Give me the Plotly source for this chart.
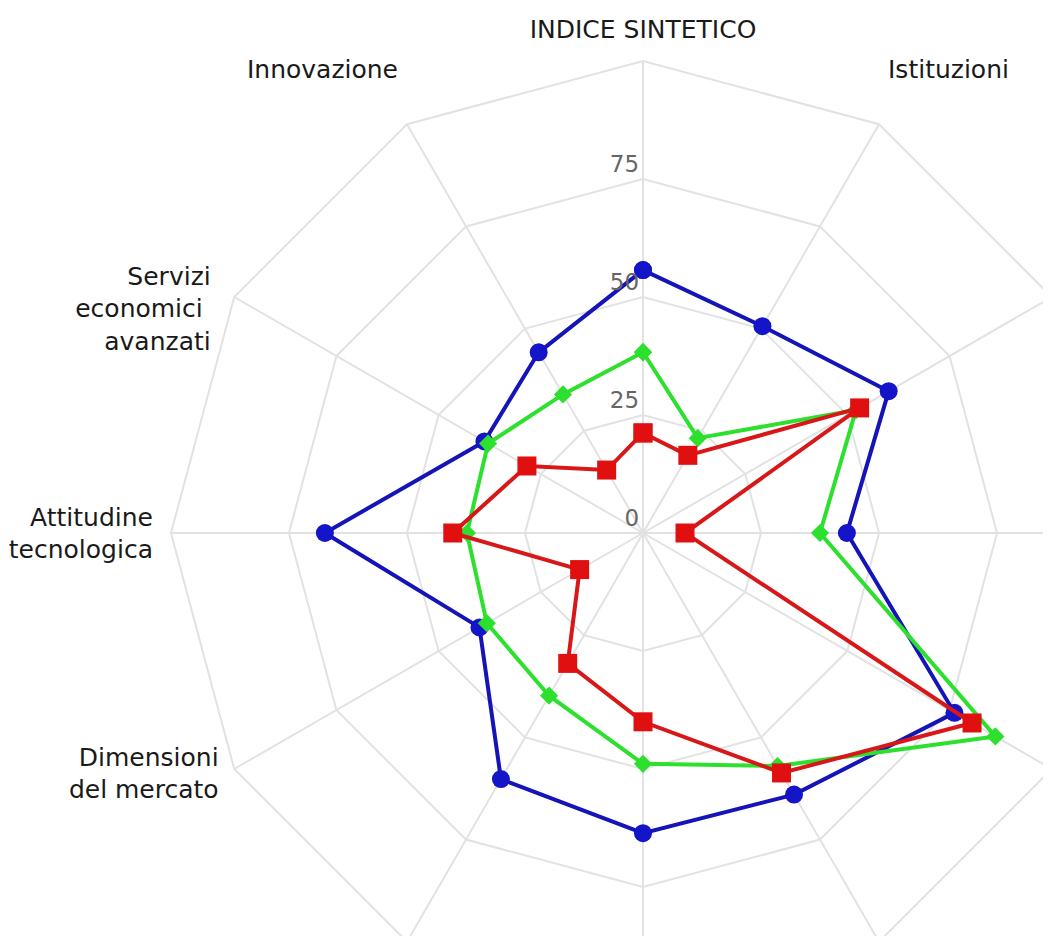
import plotly.graph_objects as go

categories = [
    "INDICE SINTETICO",
    "Istituzioni",
    "Stabilità<br>macroeconomica",
    "Infrastrutture",
    "Salute",
    "Istruzione<br>di base",
    "Istruzione superiore<br>e formazione continua",
    "Efficienza del<br>mercato del lavoro",
    "Dimensioni<br>del mercato",
    "Attitudine<br>tecnologica",
    "Servizi<br>economici <br>avanzati",
    "Innovazione",
]

serie_blu = [55.7, 50.6, 60.1, 43.2, 76.2, 64.0, 63.6, 60.2, 40.0, 67.4, 38.8, 44.2]
serie_verde = [38.3, 23.2, 52.1, 37.5, 86.2, 57.0, 48.9, 39.8, 38.2, 37.3, 37.9, 33.9]
serie_rossa = [21.2, 19.0, 53.0, 8.9, 80.5, 58.7, 40.0, 31.9, 15.5, 40.3, 28.4, 15.4]

radial_ticks = [0, 25, 50, 75]
radial_ticktext = ["0", "25", "50", "75"]

FONT = "DejaVu Sans"
GRID = "#e2e2e2"
BLANK = "&nbsp;"

# blank padding (lines before, lines after, trailing spaces per line) nudging individual labels
label_padding = {
    "Istituzioni": (0, 1, 0),
    "Innovazione": (0, 1, 0),
    "Servizi<br>economici <br>avanzati": (5, 0, 1),
    "Dimensioni<br>del mercato": (0, 3, 0),
}


def padded(label):
    before, after, trail = label_padding.get(label, (0, 0, 0))
    lines = [ln + BLANK * trail for ln in label.split("<br>")]
    return "<br>".join([BLANK] * before + lines + [BLANK] * after)


def closed(vals):
    return list(vals) + [vals[0]]


fig = go.Figure()
fig.add_trace(go.Scatterpolar(
    r=closed(serie_blu), theta=closed(categories), mode="lines+markers",
    line=dict(color="#1414b8", width=4),
    marker=dict(symbol="circle", size=18, color="#1414c8"),
    name="Serie 1",
))
fig.add_trace(go.Scatterpolar(
    r=closed(serie_verde), theta=closed(categories), mode="lines+markers",
    line=dict(color="#2ee02e", width=4),
    marker=dict(symbol="diamond", size=14, color="#2ee02e"),
    name="Serie 2",
))
fig.add_trace(go.Scatterpolar(
    r=closed(serie_rossa), theta=closed(categories), mode="lines+markers",
    line=dict(color="#d81818", width=4),
    marker=dict(symbol="square", size=19, color="#e01010"),
    name="Serie 3",
))

fig.update_layout(
    width=1120, height=1010,
    margin=dict(l=163, r=13, t=53, b=13),
    paper_bgcolor="white",
    showlegend=False,
    font=dict(family=FONT),
    polar=dict(
        bgcolor="white",
        gridshape="linear",
        angularaxis=dict(
            type="category",
            direction="clockwise",
            rotation=90,
            tickmode="array",
            tickvals=categories,
            ticktext=[padded(c) for c in categories],
            ticks="outside", ticklen=12, tickcolor="rgba(0,0,0,0)",
            tickfont=dict(family=FONT, size=25, color="#1a1a1a"),
            gridcolor=GRID, gridwidth=2,
            linecolor=GRID, linewidth=2,
            showline=True,
        ),
        radialaxis=dict(
            range=[0, 100],
            tickvals=radial_ticks,
            ticktext=[t + "<br> " for t in radial_ticktext],
            angle=90,
            side="counterclockwise",
            tickangle=90,
            ticks="",
            showline=False,
            tickfont=dict(family=FONT, size=23, color="#666666"),
            gridcolor=GRID, gridwidth=2,
        ),
    ),
)

fig.write_html(
    "out.html",
    post_script="document.documentElement.style.overflow='hidden';document.body.style.overflow='hidden';",
)
